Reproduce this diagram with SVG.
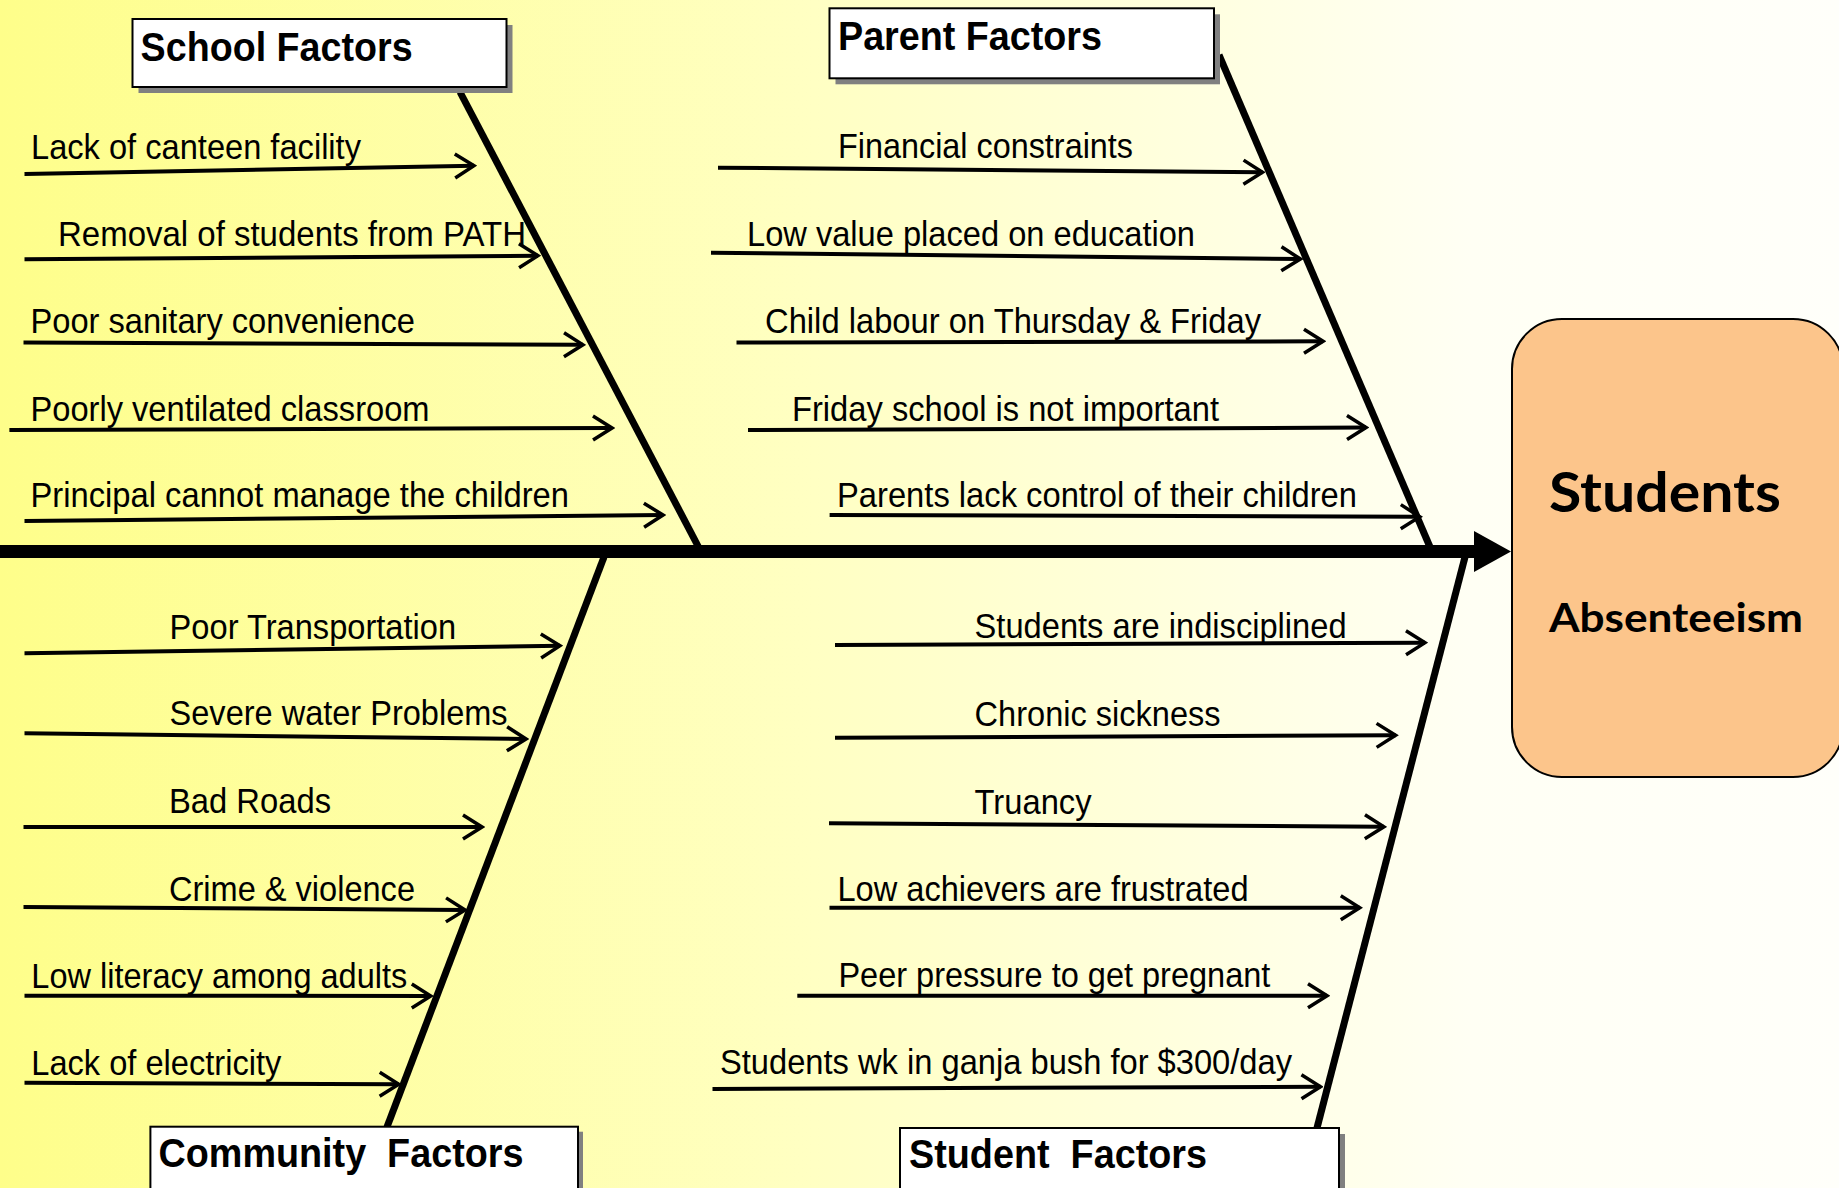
<svg xmlns="http://www.w3.org/2000/svg" width="1839" height="1188" viewBox="0 0 1839 1188">
<defs>
<linearGradient id="bg" x1="0" y1="0" x2="1" y2="0">
<stop offset="0" stop-color="#FEFE8A"/>
<stop offset="0.45" stop-color="#FFFFC4"/>
<stop offset="0.8" stop-color="#FFFFF4"/>
<stop offset="1" stop-color="#FFFFFA"/>
</linearGradient>
<marker id="arr" markerUnits="userSpaceOnUse" markerWidth="24" markerHeight="28" viewBox="0 0 24 28" refX="21" refY="14" orient="auto">
<path d="M2,2 L21,14 L2,26" fill="none" stroke="#000" stroke-width="3.5"/>
</marker>
</defs>
<style>
.lbl{font-family:"Liberation Sans",Arial,sans-serif;font-size:35px;fill:#000}
.hdr{font-family:"Liberation Sans",Arial,sans-serif;font-size:41px;font-weight:bold;fill:#000}
.eff{font-family:Lato,"Liberation Sans",sans-serif;font-weight:bold;fill:#000}
.cause{stroke:#000;stroke-width:4;fill:none;marker-end:url(#arr)}
.bone{stroke:#000;stroke-width:7;fill:none}
.box{fill:#fff;stroke:#000;stroke-width:2}
.shadow{fill:#808080}
</style>
<rect x="0" y="0" width="1839" height="1188" fill="url(#bg)"/>
<g id="connectors">
<line x1="0" y1="551.5" x2="1476" y2="551.5" stroke="#000" stroke-width="13"/>
<polygon points="1474,531 1511,551.5 1474,572" fill="#000"/>
<line class="bone" x1="460" y1="92" x2="698.5" y2="547"/>
<line class="bone" x1="1219" y1="55" x2="1430" y2="547"/>
<line class="bone" x1="604" y1="557" x2="387" y2="1127"/>
<line class="bone" x1="1465" y1="557" x2="1317" y2="1128"/>
<line class="cause" x1="24.5" y1="174" x2="474" y2="165.7"/>
<line class="cause" x1="24.5" y1="259.3" x2="538" y2="255.7"/>
<line class="cause" x1="23.5" y1="342.5" x2="583" y2="344.8"/>
<line class="cause" x1="9.4" y1="430" x2="612" y2="428"/>
<line class="cause" x1="24.5" y1="521" x2="663" y2="515"/>
<line class="cause" x1="718" y1="167.7" x2="1262.5" y2="172.3"/>
<line class="cause" x1="711" y1="252.7" x2="1300.4" y2="259"/>
<line class="cause" x1="736.5" y1="342.5" x2="1323" y2="341.3"/>
<line class="cause" x1="748" y1="430" x2="1366" y2="427.5"/>
<line class="cause" x1="829.6" y1="515" x2="1419.8" y2="516.7"/>
<line class="cause" x1="24.5" y1="653.3" x2="560" y2="645.7"/>
<line class="cause" x1="24.5" y1="733.3" x2="526" y2="739"/>
<line class="cause" x1="23.5" y1="827" x2="482" y2="827"/>
<line class="cause" x1="23.5" y1="907" x2="465" y2="910"/>
<line class="cause" x1="24.5" y1="995.7" x2="430.8" y2="996"/>
<line class="cause" x1="24.5" y1="1082.7" x2="398.7" y2="1084.3"/>
<line class="cause" x1="835" y1="645" x2="1425" y2="642.7"/>
<line class="cause" x1="835" y1="737.7" x2="1395.6" y2="735.3"/>
<line class="cause" x1="829" y1="823.3" x2="1383.9" y2="826.8"/>
<line class="cause" x1="829.5" y1="907.7" x2="1359.8" y2="907.7"/>
<line class="cause" x1="797.3" y1="995.7" x2="1327" y2="995.7"/>
<line class="cause" x1="712.5" y1="1089" x2="1320.5" y2="1086.7"/>
</g>
<g id="school-factors">
<rect class="shadow" x="138.5" y="25" width="374" height="68"/>
<rect class="box" x="132.5" y="19" width="374" height="68"/>
<text class="hdr" x="140.6" y="60.7" textLength="272" lengthAdjust="spacingAndGlyphs">School Factors</text>
</g>
<g id="school-causes">
<text class="lbl" x="31" y="159" textLength="330" lengthAdjust="spacingAndGlyphs">Lack of canteen facility</text>
<text class="lbl" x="58" y="245.5" textLength="468" lengthAdjust="spacingAndGlyphs">Removal of students from PATH</text>
<text class="lbl" x="30.5" y="333" textLength="384.5" lengthAdjust="spacingAndGlyphs">Poor sanitary convenience</text>
<text class="lbl" x="30.5" y="420.5" textLength="399" lengthAdjust="spacingAndGlyphs">Poorly ventilated classroom</text>
<text class="lbl" x="30.5" y="507" textLength="538.5" lengthAdjust="spacingAndGlyphs">Principal cannot manage the children</text>
</g>
<g id="parent-factors">
<rect class="shadow" x="835.5" y="14.3" width="384.5" height="70"/>
<rect class="box" x="829.5" y="8.3" width="384.5" height="70"/>
<text class="hdr" x="838" y="50" textLength="264" lengthAdjust="spacingAndGlyphs">Parent Factors</text>
</g>
<g id="parent-causes">
<text class="lbl" x="838" y="158" textLength="295" lengthAdjust="spacingAndGlyphs">Financial constraints</text>
<text class="lbl" x="747" y="245.5" textLength="448" lengthAdjust="spacingAndGlyphs">Low value placed on education</text>
<text class="lbl" x="765" y="333" textLength="496" lengthAdjust="spacingAndGlyphs">Child labour on Thursday &amp; Friday</text>
<text class="lbl" x="792" y="420.5" textLength="427" lengthAdjust="spacingAndGlyphs">Friday school is not important</text>
<text class="lbl" x="837" y="506.5" textLength="520" lengthAdjust="spacingAndGlyphs">Parents lack control of their children</text>
</g>
<g id="community-factors">
<rect class="shadow" x="155.4" y="1131.7" width="427.6" height="80"/>
<rect class="box" x="150.4" y="1126.7" width="427.6" height="80"/>
<text class="hdr" x="158.5" y="1166.7" textLength="365" lengthAdjust="spacingAndGlyphs" xml:space="preserve">Community  Factors</text>
</g>
<g id="community-causes">
<text class="lbl" x="169.6" y="638.5" textLength="286.5" lengthAdjust="spacingAndGlyphs">Poor Transportation</text>
<text class="lbl" x="169.6" y="725" textLength="338" lengthAdjust="spacingAndGlyphs">Severe water Problems</text>
<text class="lbl" x="169" y="813" textLength="162" lengthAdjust="spacingAndGlyphs">Bad Roads</text>
<text class="lbl" x="169" y="900.5" textLength="246" lengthAdjust="spacingAndGlyphs">Crime &amp; violence</text>
<text class="lbl" x="31.3" y="987.5" textLength="376" lengthAdjust="spacingAndGlyphs">Low literacy among adults</text>
<text class="lbl" x="31.3" y="1075" textLength="250" lengthAdjust="spacingAndGlyphs">Lack of electricity</text>
</g>
<g id="student-factors">
<rect class="shadow" x="906" y="1134" width="439" height="80"/>
<rect class="box" x="900" y="1128" width="439" height="80"/>
<text class="hdr" x="909" y="1168" textLength="298" lengthAdjust="spacingAndGlyphs" xml:space="preserve">Student  Factors</text>
</g>
<g id="student-causes">
<text class="lbl" x="974.6" y="638" textLength="372" lengthAdjust="spacingAndGlyphs">Students are indisciplined</text>
<text class="lbl" x="974.6" y="726" textLength="246" lengthAdjust="spacingAndGlyphs">Chronic sickness</text>
<text class="lbl" x="974.6" y="813.5" textLength="117" lengthAdjust="spacingAndGlyphs">Truancy</text>
<text class="lbl" x="837.5" y="900.5" textLength="411" lengthAdjust="spacingAndGlyphs">Low achievers are frustrated</text>
<text class="lbl" x="838.4" y="987" textLength="432" lengthAdjust="spacingAndGlyphs">Peer pressure to get pregnant</text>
<text class="lbl" x="720" y="1073.5" textLength="572" lengthAdjust="spacingAndGlyphs">Students wk in ganja bush for $300/day</text>
</g>
<g id="effect">
<rect x="1512" y="319" width="331" height="458" rx="50" ry="50" fill="#FCC58B" stroke="#000" stroke-width="2"/>
<text class="eff" x="1549" y="511.7" font-size="55" textLength="232" lengthAdjust="spacingAndGlyphs">Students</text>
<text class="eff" x="1549" y="631.7" font-size="41" textLength="254" lengthAdjust="spacingAndGlyphs">Absenteeism</text>
</g>
</svg>
